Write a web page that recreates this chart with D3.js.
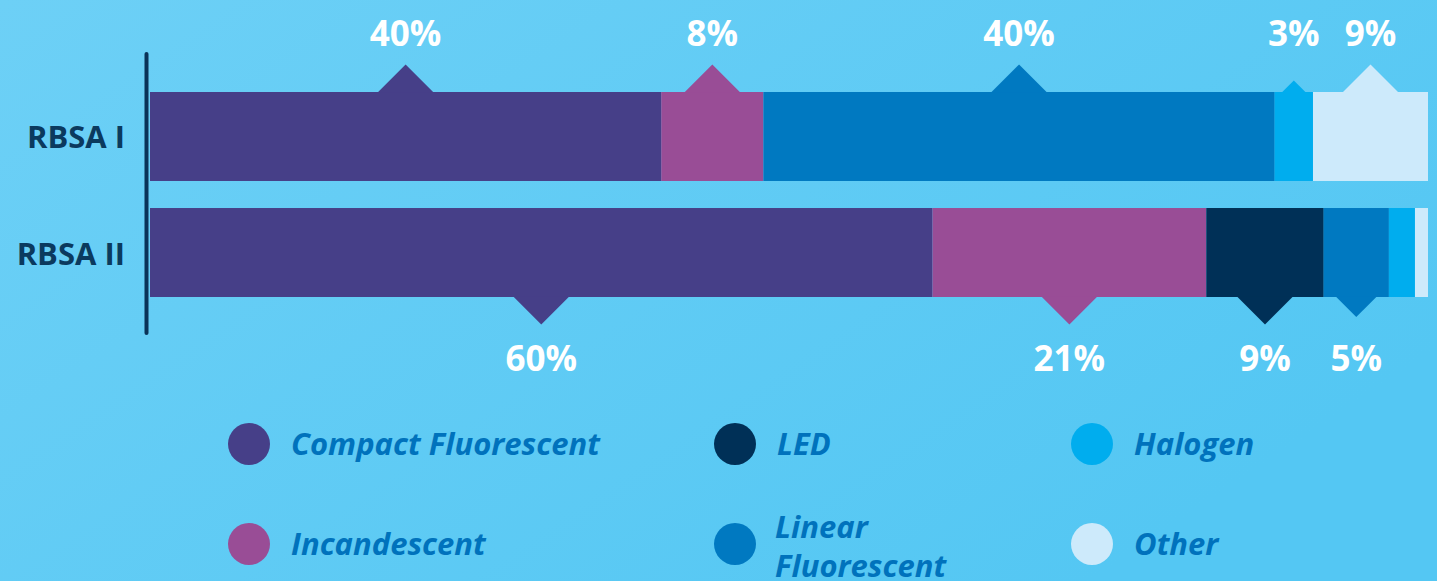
<!DOCTYPE html>
<html>
<head>
<meta charset="utf-8">
<script src="https://cdn.jsdelivr.net/npm/d3@7"></script>
<style>
  html, body { margin: 0; padding: 0; overflow: hidden; }
  svg { display: block; }
</style>
</head>
<body>
<svg id="chart" width="1437" height="581"></svg>
<script>
// Lighting technology shares by survey
const surveys = ["RBSA I", "RBSA II"];
const technologies = ["Compact Fluorescent", "Incandescent", "LED", "Linear Fluorescent", "Halogen", "Other"];
const rbsa1Shares = [40, 8, 0, 40, 3, 9];
const rbsa2Shares = [60, 21, 9, 5, 2, 1];
const techColors = ["#463f88", "#994d96", "#003057", "#0079c1", "#00adee", "#cdeafb"];
// Which segments carry a value callout (top bar above, bottom bar below)
const rbsa1Callouts = ["Compact Fluorescent", "Incandescent", "Linear Fluorescent", "Halogen", "Other"];
const rbsa2Callouts = ["Compact Fluorescent", "Incandescent", "LED", "Linear Fluorescent"];

const W = 1437, H = 581;
const svg = d3.select("#chart");

// Background gradient
const defs = svg.append("defs");
const grad = defs.append("linearGradient").attr("id", "bg")
  .attr("x1", "0%").attr("y1", "0%").attr("x2", "100%").attr("y2", "60%");
grad.append("stop").attr("offset", "0%").attr("stop-color", "#6dd0f6");
grad.append("stop").attr("offset", "100%").attr("stop-color", "#54c7f3");
svg.append("rect").attr("width", W).attr("height", H).attr("fill", "url(#bg)");

const rows = surveys.map((s, i) => {
  const vals = i === 0 ? rbsa1Shares : rbsa2Shares;
  const o = { survey: s };
  technologies.forEach((t, j) => o[t] = vals[j]);
  return o;
});

const stack = d3.stack().keys(technologies).offset(d3.stackOffsetExpand);
const series = stack(rows);

const x = d3.scaleLinear().domain([0, 1]).range([150, 1428]);
const y = d3.scaleBand().domain(surveys).range([92, 297]).paddingInner(0.233).paddingOuter(0);
const color = d3.scaleOrdinal().domain(technologies).range(techColors);

const fontFamily = "'Open Sans', 'Noto Sans', sans-serif";

// Segments
const g = svg.append("g");
series.forEach(s => {
  g.selectAll(null).data(s).join("rect")
    .attr("x", d => x(d[0]))
    .attr("y", d => y(d.data.survey))
    .attr("width", d => Math.max(0, x(d[1]) - x(d[0])))
    .attr("height", y.bandwidth())
    .attr("fill", color(s.key));
});

// Callout carets and value labels
series.forEach(s => {
  s.forEach((d, i) => {
    const survey = d.data.survey;
    const callouts = i === 0 ? rbsa1Callouts : rbsa2Callouts;
    if (!callouts.includes(s.key)) return;
    const x0 = x(d[0]), x1 = x(d[1]);
    const cx = (x0 + x1) / 2;
    const segW = x1 - x0;
    const cw = Math.min(56, segW * 0.63);
    const ch = cw / 2;
    const top = i === 0;
    const baseY = top ? y(survey) + 0.5 : y(survey) + y.bandwidth() - 0.5;
    const apexY = top ? baseY - ch : baseY + ch;
    svg.append("path")
      .attr("d", `M${cx - cw / 2},${baseY} L${cx},${apexY} L${cx + cw / 2},${baseY} Z`)
      .attr("fill", color(s.key));
    svg.append("text")
      .attr("x", cx)
      .attr("y", top ? 46 : 371)
      .attr("text-anchor", "middle")
      .attr("font-family", fontFamily)
      .attr("font-weight", 700)
      .attr("font-size", 35)
      .attr("fill", "#ffffff")
      .text(d.data[s.key] + "%");
  });
});

// Category axis line
svg.append("line")
  .attr("x1", 146.5).attr("x2", 146.5)
  .attr("y1", 54).attr("y2", 333)
  .attr("stroke", "#0a3358").attr("stroke-width", 4)
  .attr("stroke-linecap", "round");

// Category labels
svg.selectAll(".cat").data(surveys).join("text")
  .attr("class", "cat")
  .attr("x", 125)
  .attr("y", d => y(d) + y.bandwidth() / 2 + 12)
  .attr("text-anchor", "end")
  .attr("font-family", fontFamily)
  .attr("font-weight", 700)
  .attr("font-size", 31)
  .attr("fill", "#0b3a5e")
  .text(d => d);

// Legend
const legendPos = [
  [249, 444], [249, 544],
  [735, 444], [735, 544],
  [1092, 444], [1092, 544]
];
const legendOrder = ["Compact Fluorescent", "Incandescent", "LED", "Linear Fluorescent", "Halogen", "Other"];
legendOrder.forEach((t, i) => {
  const [lx, ly] = legendPos[i];
  svg.append("circle").attr("cx", lx).attr("cy", ly).attr("r", 21).attr("fill", color(t));
  const txt = svg.append("text")
    .attr("x", lx + 42)
    .attr("font-family", fontFamily)
    .attr("font-weight", 700)
    .attr("font-style", "italic")
    .attr("font-size", 31)
    .attr("fill", "#0072bc");
  if (t === "Linear Fluorescent") {
    txt.append("tspan").attr("x", lx + 40).attr("y", ly - 6).text("Linear");
    txt.append("tspan").attr("x", lx + 40).attr("y", ly + 33).text("Fluorescent");
  } else {
    txt.attr("y", ly + 11).text(t);
  }
});
</script>
</body>
</html>
